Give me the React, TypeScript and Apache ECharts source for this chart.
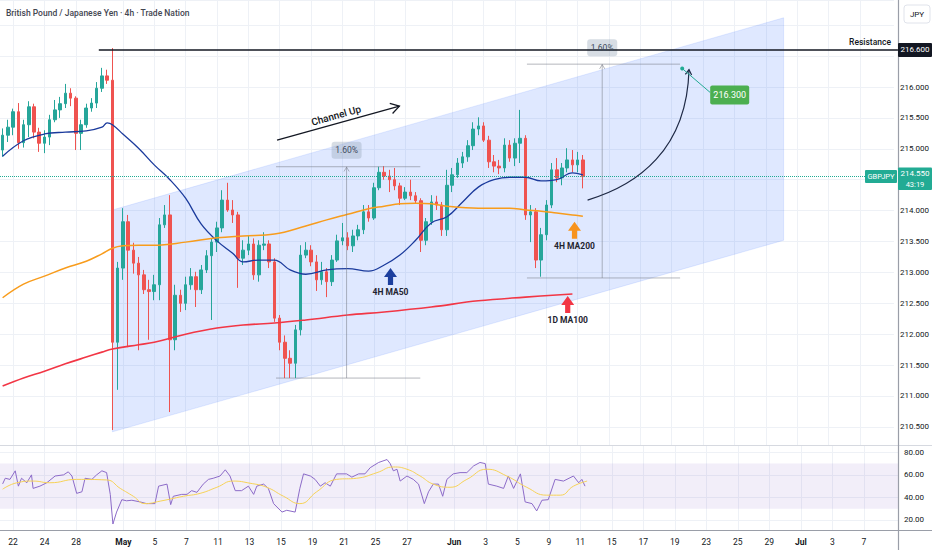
import React, { useEffect, useRef } from 'react';
import * as echarts from 'echarts';

const FONT = 'Roboto, "Noto Sans", sans-serif';
const BAR_COUNT = 171; // 8h slots across the visible time range

// [bar slot, label]
const dayTicks: [number, string][] = [
  [2, '22'], [8, '24'], [14, '28'], [23, 'May'], [29, '5'], [35, '7'], [41, '11'], [47, '13'],
  [53, '15'], [59, '19'], [65, '21'], [71, '25'], [77, '27'], [86, 'Jun'], [92, '3'], [98, '5'],
  [104, '9'], [110, '11'], [116, '15'], [122, '17'], [128, '19'], [134, '23'], [140, '25'],
  [146, '29'], [152, 'Jul'], [158, '3'], [164, '7'],
];
const monthNames = ['May', 'Jun', 'Jul'];

// [open, close, low, high]
const candles: number[][] = [
  [214.98, 215.22, 214.87, 215.33], [215.22, 215.35, 215.11, 215.47], [215.35, 215.60, 215.22, 215.65],
  [215.60, 215.10, 215.00, 215.74], [215.10, 215.39, 215.02, 215.47], [215.39, 215.68, 215.19, 215.77],
  [215.68, 215.27, 215.17, 215.73], [215.27, 215.09, 214.95, 215.34], [215.09, 215.19, 214.93, 215.30],
  [215.19, 215.47, 215.06, 215.55], [215.47, 215.63, 215.43, 215.79], [215.63, 215.73, 215.50, 215.84],
  [215.73, 215.90, 215.66, 216.05], [215.90, 215.82, 215.69, 215.98], [215.82, 215.25, 214.98, 215.85],
  [215.25, 215.39, 214.98, 215.47], [215.39, 215.66, 215.34, 215.73], [215.66, 215.74, 215.60, 215.82],
  [215.74, 215.98, 215.66, 216.08], [215.98, 216.18, 215.92, 216.31], [216.18, 216.11, 216.05, 216.28],
  [216.11, 211.87, 210.45, 216.63], [211.87, 213.07, 211.10, 213.17], [213.07, 213.82, 212.88, 214.04],
  [213.82, 213.36, 211.79, 213.93], [213.36, 213.15, 212.98, 213.48], [213.15, 212.96, 211.74, 213.25],
  [212.96, 212.72, 212.65, 213.04], [212.72, 212.69, 211.91, 212.88], [212.69, 212.80, 212.55, 212.96],
  [212.80, 213.77, 212.55, 213.88], [213.77, 213.93, 213.72, 214.09], [213.93, 211.91, 210.74, 214.25],
  [211.91, 212.63, 211.74, 212.80], [212.63, 212.50, 212.36, 212.72], [212.50, 212.80, 212.39, 212.93],
  [212.80, 212.93, 212.72, 213.07], [212.93, 212.72, 212.44, 213.01], [212.72, 213.04, 212.65, 213.12],
  [213.04, 213.27, 212.99, 213.36], [213.27, 213.49, 212.23, 213.55], [213.49, 213.72, 213.33, 213.82],
  [213.72, 214.17, 213.65, 214.33], [214.17, 214.01, 213.98, 214.45], [214.01, 213.93, 213.80, 214.17],
  [213.93, 213.23, 212.75, 213.98], [213.23, 213.36, 213.12, 213.52], [213.36, 213.46, 213.28, 213.59],
  [213.46, 212.96, 212.88, 213.55], [212.96, 213.44, 212.85, 213.52], [213.44, 213.46, 213.36, 213.65],
  [213.46, 213.17, 213.07, 213.52], [213.17, 212.26, 212.20, 213.23], [212.26, 211.87, 211.74, 212.31],
  [211.87, 211.61, 211.29, 211.98], [211.61, 211.53, 211.29, 211.74], [211.53, 212.07, 211.29, 212.15],
  [212.07, 213.28, 211.98, 213.44], [213.28, 213.36, 213.23, 213.49], [213.36, 213.17, 213.10, 213.44],
  [213.17, 212.88, 212.70, 213.28], [212.88, 213.01, 212.80, 213.17], [213.01, 212.85, 212.60, 213.07],
  [212.85, 213.20, 212.78, 213.28], [213.20, 213.51, 213.17, 213.61], [213.51, 213.56, 213.44, 213.80],
  [213.56, 213.43, 213.36, 213.65], [213.43, 213.59, 213.33, 213.69], [213.59, 213.69, 213.52, 213.77],
  [213.69, 213.98, 213.62, 214.09], [213.98, 213.88, 213.82, 214.09], [213.88, 214.37, 213.85, 214.45],
  [214.37, 214.62, 214.33, 214.71], [214.62, 214.56, 214.50, 214.72], [214.56, 214.50, 214.30, 214.66],
  [214.50, 214.40, 214.33, 214.69], [214.40, 214.20, 214.09, 214.45], [214.20, 214.30, 214.17, 214.38],
  [214.30, 214.24, 214.17, 214.50], [214.24, 214.16, 214.11, 214.30], [214.16, 213.52, 213.33, 214.20],
  [213.52, 213.82, 213.44, 213.88], [213.82, 214.14, 213.77, 214.25], [214.14, 214.09, 214.01, 214.24],
  [214.09, 213.69, 213.59, 214.14], [213.69, 214.41, 213.59, 214.66], [214.41, 214.58, 214.30, 214.69],
  [214.58, 214.77, 214.53, 214.85], [214.77, 214.87, 214.69, 214.95], [214.87, 215.05, 214.79, 215.14],
  [215.05, 215.32, 214.98, 215.43], [215.32, 215.37, 215.22, 215.51], [215.37, 215.14, 215.11, 215.43],
  [215.14, 214.79, 214.69, 215.21], [214.79, 214.72, 214.62, 214.90], [214.72, 214.69, 214.59, 214.82],
  [214.69, 215.06, 214.62, 215.17], [215.06, 214.85, 214.79, 215.14], [214.85, 215.09, 214.72, 215.17],
  [215.09, 215.17, 214.77, 215.63], [215.17, 213.93, 213.85, 215.22], [213.93, 213.98, 213.49, 214.09],
  [213.98, 213.20, 213.07, 214.04], [213.20, 213.61, 212.93, 213.72], [213.61, 214.09, 213.52, 214.17],
  [214.09, 214.66, 214.04, 214.77], [214.66, 214.53, 214.46, 214.85], [214.53, 214.69, 214.41, 214.77],
  [214.69, 214.82, 214.62, 215.01], [214.82, 214.74, 214.62, 214.98], [214.74, 214.82, 214.62, 214.95],
  [214.82, 214.55, 214.36, 214.90],
];

// [bar position, value]
const ma50: [number, number][] = [
  [0, 214.88], [4, 215.13], [8, 215.24], [12, 215.27], [16, 215.29], [19, 215.35], [20, 215.42], [21, 215.39],
  [23, 215.24], [26, 215.01], [29, 214.74], [32, 214.50], [35, 214.20], [38, 213.78], [41, 213.51], [44, 213.31],
  [46, 213.17], [49, 213.20], [52, 213.20], [55, 213.04], [58, 212.97], [62, 213.04], [66, 213.06], [70, 213.02],
  [73, 213.12], [76, 213.28], [79, 213.52], [82, 213.80], [85, 213.90], [88, 214.14], [91, 214.38], [94, 214.50],
  [97, 214.54], [100, 214.54], [103, 214.48], [106, 214.50], [109, 214.61], [111, 214.58],
];
const ma200: [number, number][] = [
  [0, 212.59], [4, 212.81], [8, 212.94], [12, 213.07], [16, 213.18], [19, 213.30], [21, 213.39], [23, 213.43],
  [26, 213.44], [29, 213.44], [35, 213.49], [41, 213.56], [46, 213.59], [52, 213.62], [58, 213.75], [62, 213.85],
  [66, 213.94], [70, 214.03], [73, 214.07], [76, 214.11], [79, 214.12], [82, 214.11], [85, 214.07], [91, 214.04],
  [97, 214.04], [100, 214.01], [103, 213.99], [106, 213.96], [109, 213.93], [111, 213.91],
];
const ma100d: [number, number][] = [
  [0, 211.16], [4, 211.29], [8, 211.40], [12, 211.52], [16, 211.63], [19, 211.71], [21, 211.76], [26, 211.83],
  [29, 211.87], [35, 212.00], [41, 212.10], [46, 212.15], [52, 212.18], [58, 212.23], [66, 212.31], [73, 212.36],
  [82, 212.44], [91, 212.54], [100, 212.60], [109, 212.65],
];
const rsi: [number, number][] = [
  [0, 52], [0.5, 57], [1.4, 56], [2.4, 63.6], [3, 50], [3.6, 57], [4.6, 53], [5.5, 60], [5.8, 48], [7.1, 50],
  [8.4, 53], [10, 59], [11.6, 60], [12.5, 62.7], [13.2, 59], [14.1, 43.6], [15.1, 45], [15.7, 57], [17, 56],
  [17.9, 60], [18.9, 63.6], [19.8, 62], [20.5, 42.7], [21, 16.4], [21.7, 27], [22.7, 38], [23.6, 37], [24.6, 37.5],
  [26.2, 36], [27.4, 34.5], [29, 34.5], [29.7, 50], [31.3, 51.8], [32, 33.6], [32.5, 41], [34.1, 42.7], [35.1, 42.7],
  [36, 46], [37, 44.5], [38.2, 51.8], [39.2, 56], [40.1, 57], [41.4, 59], [42.4, 64.5], [43.3, 59], [44.3, 46],
  [45.5, 46], [46.8, 50], [47.8, 42.7], [48.4, 50], [49.7, 51.8], [50.6, 48], [51.6, 34.5], [53.2, 27], [54.1, 28.6],
  [55.7, 27], [56.6, 48], [57.3, 60.9], [58.6, 59], [59.5, 56], [60.5, 50], [61.4, 53], [62.4, 50], [63.6, 60.9],
  [65.5, 60.9], [66.5, 58], [67.8, 60.9], [69, 60.9], [70, 66.4], [71.6, 71], [73.2, 73.6], [73.8, 70], [74.4, 63.6],
  [75.1, 65], [75.7, 54.5], [77, 59], [78.2, 56], [79.2, 51.8], [80.3, 34.5], [81.1, 45], [82, 51.8], [83, 51.8],
  [83.8, 41], [84.6, 56], [85.8, 60.9], [87.1, 62], [88.4, 62], [89.7, 68], [90.9, 71], [91.9, 70], [92.5, 51.8],
  [94.1, 50], [95.4, 48], [96.3, 59], [97.3, 48], [98.6, 60.9], [99.5, 36], [100.8, 34.5], [101.7, 28], [102.7, 37.5],
  [103.9, 38], [105.2, 56], [106.8, 54.5], [108.7, 59], [109.7, 53], [110.3, 56], [110.9, 50],
];
const rsiMa: [number, number][] = [
  [0, 47.3], [2.7, 53], [5.8, 54.5], [9, 53], [14.1, 56], [19.8, 55.5], [22.4, 48], [24.9, 41], [27.1, 34.5],
  [30, 36.7], [34.4, 41], [37.6, 43.6], [40.8, 49], [43.9, 54.5], [47.1, 52.6], [50.3, 49], [53.5, 41], [56.6, 34.5],
  [59.8, 45], [63.6, 56], [67.4, 57], [71.3, 62], [74.4, 67], [77, 65], [79.5, 59], [82, 51.8], [85.2, 49],
  [88.4, 56], [92.2, 65], [96, 59], [99.8, 49], [103.6, 42], [106.2, 42], [108.7, 50], [111.3, 54.5],
];
const rsiBand = [70, 30];

const priceMin = 210.207;
const priceMax = 217.408;
const rsiMin = 11.1;
const rsiMax = 86.5;
const lastPrice = 214.55;
const lastPriceText = ['214.550', '43:19'];
const resistance = { start: 18.4, price: 216.6, text: 'Resistance', tag: '216.600' };
const channel: [number, number][] = [[21.0, 214.01], [149.4, 217.12], [149.4, 213.52], [21.0, 210.42]];
const ranges = [
  { from: 52.3, to: 79.9, mid: 65.8, top: 214.71, bottom: 211.29, label: '1.60%' },
  { from: 100.3, to: 129.6, mid: 114.7, top: 216.37, bottom: 212.91, label: '1.60%' },
];
const target = { bar: 130, price: 216.3, label: '216.300' };
const projection: [number, number][] = [[111.9, 214.17], [121.4, 214.41], [130.9, 214.98], [131.3, 216.28]];
const channelArrow: [number, number][] = [[52.5, 215.14], [75.9, 215.69]];
const maTags = [
  { text: '4H MA50', bar: 74.2, price: 213.07, color: '#1d3f9e' },
  { text: '4H MA200', bar: 109.4, price: 213.82, color: '#f7931e' },
  { text: '1D MA100', bar: 108.1, price: 212.62, color: '#f23645' },
];
const title = 'British Pound / Japanese Yen · 4h · Trade Nation';

const categories = Array.from({ length: BAR_COUNT }, (_, i) => String(i));
const fineCategories = Array.from({ length: 2 * BAR_COUNT + 1 }, (_, j) => {
  const t = dayTicks.find((d) => 2 * d[0] + 1 === j);
  return t ? t[1] : '';
});
const isTick = (_i: number, v: string) => v !== '';
const GRID_COLOR = '#eef1f6';

// price-scale labels hidden behind the tags (as on the reference)
const hiddenPriceLabel = (v: number) =>
  v > priceMax - 0.5 || Math.abs(v - resistance.price) < 0.15 || Math.abs(v - lastPrice) < 0.15;

function buildOption(): any {
  return {
    animation: false,
    backgroundColor: '#ffffff',
    textStyle: { fontFamily: FONT },
    grid: [
      { left: 0, right: 34, top: 0, height: 445 },
      { left: 0, right: 34, top: 445, height: 85 },
    ],
    xAxis: [
      { type: 'category', gridIndex: 0, data: categories, boundaryGap: true, axisLine: { show: false }, axisTick: { show: false }, axisLabel: { show: false }, splitLine: { show: false } },
      { type: 'value', gridIndex: 0, min: -0.5, max: BAR_COUNT - 0.5, show: false },
      { type: 'category', gridIndex: 0, data: fineCategories, boundaryGap: false, axisLine: { show: false }, axisTick: { show: false }, axisLabel: { show: false }, splitLine: { show: true, interval: isTick, lineStyle: { color: GRID_COLOR, width: 1 } } },
      {
        type: 'category', gridIndex: 1, data: fineCategories, boundaryGap: false,
        axisLine: { show: false }, axisTick: { show: false },
        axisLabel: {
          interval: isTick, color: '#131722', fontSize: 8.5, margin: 7, fontFamily: FONT,
          formatter: (v: string) => (monthNames.includes(v) ? `{m|${v}}` : v),
          rich: { m: { fontWeight: 'bold', fontSize: 8.5, color: '#131722', fontFamily: FONT } },
        },
        splitLine: { show: true, interval: isTick, lineStyle: { color: GRID_COLOR, width: 1 } },
      },
      { type: 'value', gridIndex: 1, min: -0.5, max: BAR_COUNT - 0.5, show: false },
    ],
    yAxis: [
      {
        type: 'value', gridIndex: 0, position: 'right', min: priceMin, max: priceMax, splitNumber: 14,
        minInterval: 0.5, maxInterval: 0.5,
        axisLine: { show: false }, axisTick: { show: false },
        axisLabel: {
          showMinLabel: false, showMaxLabel: false, color: '#131722', fontSize: 8, margin: 6, fontFamily: FONT,
          formatter: (v: number) => (hiddenPriceLabel(v) ? '' : v.toFixed(3)),
        },
        splitLine: { lineStyle: { color: GRID_COLOR, width: 1 } },
      },
      {
        type: 'value', gridIndex: 1, position: 'right', min: rsiMin, max: rsiMax, splitNumber: 4,
        minInterval: 20, maxInterval: 20,
        axisLine: { show: false }, axisTick: { show: false },
        axisLabel: { showMinLabel: false, showMaxLabel: false, color: '#131722', fontSize: 8, margin: 6, fontFamily: FONT, formatter: (v: number) => v.toFixed(2) },
        splitLine: { lineStyle: { color: GRID_COLOR, width: 1 } },
      },
    ],
    series: [
      {
        type: 'candlestick', name: 'GBPJPY', xAxisIndex: 0, yAxisIndex: 0, data: candles, barWidth: '58%', z: 3,
        itemStyle: { color: '#26a69a', color0: '#ef5350', borderColor: '#26a69a', borderColor0: '#ef5350', borderWidth: 1 },
        markLine: {
          silent: true, symbol: ['none', 'none'], label: { show: false },
          lineStyle: { color: '#22ab94', type: 'dotted', width: 1 },
          data: [{ yAxis: lastPrice }],
        },
      },
      { type: 'line', name: 'MA50', xAxisIndex: 1, yAxisIndex: 0, data: ma50, smooth: 0.4, showSymbol: false, z: 4, lineStyle: { color: '#1a3a9c', width: 1.3 } },
      { type: 'line', name: 'MA200', xAxisIndex: 1, yAxisIndex: 0, data: ma200, smooth: 0.4, showSymbol: false, z: 4, lineStyle: { color: '#f89c1c', width: 1.5 } },
      { type: 'line', name: 'MA100D', xAxisIndex: 1, yAxisIndex: 0, data: ma100d, smooth: 0.4, showSymbol: false, z: 4, lineStyle: { color: '#f23645', width: 1.6 } },
      {
        type: 'line', name: 'RSI', xAxisIndex: 4, yAxisIndex: 1, data: rsi, showSymbol: false, z: 4, lineStyle: { color: '#8c6bc8', width: 1 },
        markArea: { silent: true, itemStyle: { color: 'rgba(126,87,194,0.1)' }, data: [[{ yAxis: rsiBand[0] }, { yAxis: rsiBand[1] }]] },
      },
      { type: 'line', name: 'RSI MA', xAxisIndex: 4, yAxisIndex: 1, data: rsiMa, smooth: 0.5, showSymbol: false, z: 4, lineStyle: { color: '#f6d257', width: 1 } },
    ],
  };
}

function buildGraphics(chart: any): any[] {
  const toPx = (p: number[]) => chart.convertToPixel({ seriesIndex: 1 }, p) as number[];
  const els: any[] = [];
  const txt = (x: number, y: number, t: string, style: any = {}, extra: any = {}) => ({
    type: 'text', x, y, z: 30, silent: true,
    style: { text: t, fill: '#131722', fontSize: 9, fontFamily: FONT, align: 'center', verticalAlign: 'middle', ...style },
    ...extra,
  });
  const ln = (x1: number, y1: number, x2: number, y2: number, stroke: string, lineWidth = 1, z = 20) => ({
    type: 'line', z, silent: true, shape: { x1, y1, x2, y2 }, style: { stroke, lineWidth },
  });
  const chevron = (tip: number[], from: number[], len: number, stroke: string, lw: number) => {
    const ang = Math.atan2(tip[1] - from[1], tip[0] - from[0]);
    const a1 = ang + Math.PI - 0.55;
    const a2 = ang + Math.PI + 0.55;
    return {
      type: 'polyline', z: 20, silent: true,
      shape: { points: [[tip[0] + len * Math.cos(a1), tip[1] + len * Math.sin(a1)], tip, [tip[0] + len * Math.cos(a2), tip[1] + len * Math.sin(a2)]] },
      style: { stroke, lineWidth: lw, fill: 'none' },
    };
  };

  // channel
  els.push({ type: 'polygon', z: 1, silent: true, shape: { points: channel.map(toPx) }, style: { fill: 'rgba(41,98,255,0.15)', stroke: 'rgba(41,98,255,0.12)', lineWidth: 1 } });

  // price range measurements
  ranges.forEach((r) => {
    const [xa, yt] = toPx([r.from, r.top]);
    const [xb] = toPx([r.to, r.top]);
    const [, yb] = toPx([r.from, r.bottom]);
    const [xm] = toPx([r.mid, r.top]);
    const c = 'rgba(120,124,135,0.55)';
    els.push(ln(xa, yt, xb, yt, c, 1, 12));
    els.push(ln(xa, yb, xb, yb, c, 1, 12));
    els.push(ln(xm, yt, xm, yb, c, 1, 12));
    els.push(chevron([xm, yt + 0.5], [xm, yt + 10], 5, c, 1));
    els.push({ type: 'rect', z: 13, silent: true, shape: { x: xm - 15, y: yt - 25, width: 30, height: 17, r: 3 }, style: { fill: 'rgba(150,165,185,0.38)' } });
    els.push(txt(xm, yt - 16.5, r.label, { fill: '#3e4b5e', fontSize: 8.5 }));
  });

  // resistance
  const [rx, ry] = toPx([resistance.start, resistance.price]);
  els.push(ln(rx, ry, 898, ry, '#131722', 1.6, 25));
  els.push(txt(891, ry - 8, resistance.text, { align: 'right', fontSize: 8.5, fontWeight: 500 }));

  // channel-up arrow
  const a = toPx(channelArrow[0]);
  const b = toPx(channelArrow[1]);
  els.push(ln(a[0], a[1], b[0], b[1], '#131722', 1.3, 22));
  els.push(chevron(b, a, 10, '#131722', 1.3));
  const th = Math.atan2(a[1] - b[1], b[0] - a[0]);
  const mx = (a[0] + b[0]) / 2 - Math.sin(th) * 8;
  const my = (a[1] + b[1]) / 2 - Math.cos(th) * 8;
  els.push(txt(mx, my, 'Channel Up', { fontSize: 10, fontWeight: 500 }, { rotation: th }));

  // projection curve
  const p = projection.map(toPx);
  els.push({
    type: 'bezierCurve', z: 22, silent: true,
    shape: { x1: p[0][0], y1: p[0][1], cpx1: p[1][0], cpy1: p[1][1], cpx2: p[2][0], cpy2: p[2][1], x2: p[3][0], y2: p[3][1] },
    style: { stroke: '#1e2945', lineWidth: 1.2, fill: 'none' },
  });
  els.push(chevron(p[3], [p[3][0] - 1, p[3][1] + 10], 6, '#1e2945', 1.2));

  // target
  const [tx, ty] = toPx([target.bar, target.price]);
  els.push(ln(tx, ty, tx + 28, ty + 24, '#22ab94', 1, 22));
  els.push({ type: 'circle', z: 23, silent: true, shape: { cx: tx, cy: ty, r: 2 }, style: { fill: '#22ab94' } });
  els.push({ type: 'rect', z: 24, silent: true, shape: { x: tx + 28, y: ty + 17, width: 39, height: 19, r: 2 }, style: { fill: '#4caf50' } });
  els.push(txt(tx + 47.5, ty + 26.5, target.label, { fill: '#ffffff', fontSize: 9 }));

  // MA tags
  maTags.forEach((m) => {
    const [x, y] = toPx([m.bar, m.price]);
    els.push({
      type: 'polygon', z: 22, silent: true,
      shape: { points: [[x, y], [x + 6.5, y + 9], [x + 2.6, y + 9], [x + 2.6, y + 17], [x - 2.6, y + 17], [x - 2.6, y + 9], [x - 6.5, y + 9]] },
      style: { fill: m.color },
    });
    els.push(txt(x, y + 24, m.text, { fontSize: 8.5, fontWeight: 'bold', fill: '#1f2430' }));
  });

  // last price tags
  const [, ly] = toPx([0, lastPrice]);
  els.push({ type: 'rect', z: 30, silent: true, shape: { x: 865, y: ly - 6.5, width: 32, height: 13, r: 1 }, style: { fill: '#22ab94' } });
  els.push(txt(881, ly, 'GBPJPY', { fill: '#ffffff', fontSize: 7.5 }, { z: 31 }));
  els.push({ type: 'rect', z: 30, silent: true, shape: { x: 898, y: ly - 9, width: 34, height: 22.5, r: 1 }, style: { fill: '#22ab94' } });
  els.push(txt(915, ly - 3.2, lastPriceText[0], { fill: '#ffffff', fontSize: 8 }, { z: 31 }));
  els.push(txt(915, ly + 7.6, lastPriceText[1], { fill: '#ffffff', fontSize: 7.5 }, { z: 31 }));

  // resistance price tag
  els.push({ type: 'rect', z: 30, silent: true, shape: { x: 898, y: ry - 7, width: 34, height: 14, r: 1 }, style: { fill: '#131722' } });
  els.push(txt(915, ry, resistance.tag, { fill: '#ffffff', fontSize: 8 }, { z: 31 }));

  // panes & frame
  els.push(ln(0, 445.5, 932, 445.5, '#d6d9e0', 1, 26));
  els.push(ln(0, 530.5, 932, 530.5, '#9a9ea8', 1.2, 26));
  els.push(ln(898.5, 0, 898.5, 550, '#9a9ea8', 1.2, 26));

  // JPY currency box
  els.push({ type: 'rect', z: 30, silent: true, shape: { x: 904, y: 5, width: 26, height: 18, r: 3 }, style: { fill: '#ffffff', stroke: '#e0e3eb', lineWidth: 1 } });
  els.push(txt(917, 14, 'JPY', { fontSize: 8 }, { z: 31 }));

  // title
  els.push(txt(6, 13, title, { align: 'left', fontSize: 8.5, fill: '#434651', fontWeight: 500 }));

  return els;
}

export default function App() {
  const ref = useRef<HTMLDivElement>(null);
  useEffect(() => {
    const el = ref.current;
    if (!el) return;
    const chart = echarts.init(el, undefined, { renderer: 'svg' });
    chart.setOption(buildOption());
    chart.setOption({ graphic: { elements: buildGraphics(chart) } });
    return () => chart.dispose();
  }, []);
  return <div ref={ref} style={{ position: 'fixed', left: 0, top: 0, width: 932, height: 550, background: '#fff' }} />;
}
